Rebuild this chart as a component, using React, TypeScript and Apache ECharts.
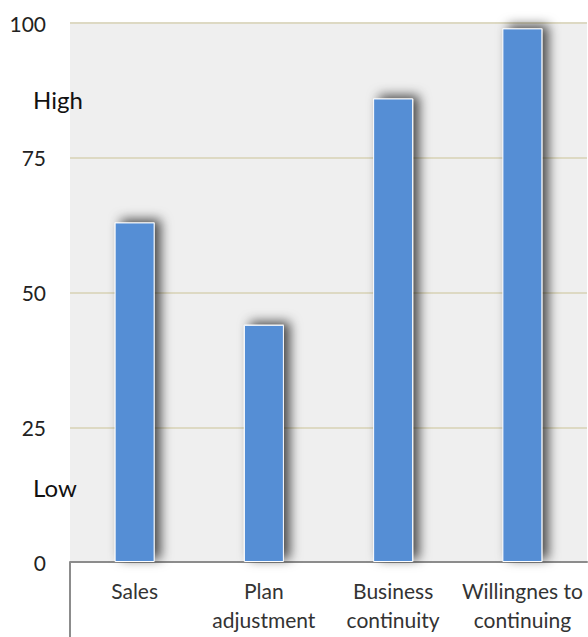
import React, { useEffect, useRef } from "react";
import * as echarts from "echarts";

const categories = ["Sales", "Plan\nadjustment", "Business\ncontinuity", "Willingnes to\ncontinuing"];
const values = [63, 44, 86, 99];
const yTicks = { min: 0, max: 100, interval: 25 };
const levelLabels = [
  { text: "High", value: 85.5 },
  { text: "Low", value: 13.5 },
];

export default function App() {
  const ref = useRef<HTMLDivElement>(null);

  useEffect(() => {
    if (!ref.current) return;
    const chart = echarts.init(ref.current, null, { renderer: "svg" });
    const font = "Lato, 'Open Sans', sans-serif";
    const gridTop = 23;
    const gridBottom = 75;
    const plotH = 637 - gridTop - gridBottom;
    const yOf = (v: number) => gridTop + plotH * (1 - (v - yTicks.min) / (yTicks.max - yTicks.min));

    chart.setOption({
      animation: false,
      backgroundColor: "#ffffff",
      grid: {
        left: 70,
        right: 1,
        top: gridTop,
        bottom: gridBottom,
        show: true,
        backgroundColor: "#efefef",
        borderWidth: 0,
      },
      xAxis: {
        type: "category",
        data: categories,
        axisLine: { show: true, lineStyle: { color: "#8c8c8c", width: 2 } },
        axisTick: { show: false },
        axisLabel: {
          color: "#333333",
          fontSize: 21,
          fontFamily: font,
          lineHeight: 29,
          margin: 14,
          interval: 0,
        },
      },
      yAxis: {
        type: "value",
        min: yTicks.min,
        max: yTicks.max,
        interval: yTicks.interval,
        axisLine: { show: false },
        axisTick: { show: false },
        axisLabel: {
          color: "#222222",
          fontSize: 21,
          fontFamily: font,
          margin: 24,
        },
        splitLine: { show: true, lineStyle: { color: "#ddd9c3", width: 2 } },
      },
      series: [
        {
          type: "bar",
          data: values,
          barWidth: 40,
          itemStyle: {
            color: "#558ed5",
            borderColor: "#ffffff",
            borderWidth: 1,
            shadowColor: "rgba(0,0,0,0.7)",
            shadowBlur: 12,
            shadowOffsetX: 6,
            shadowOffsetY: -3,
          },
        },
      ],
      graphic: [
        ...levelLabels.map((l) => ({
          type: "text",
          left: 33,
          top: yOf(l.value) - 14,
          style: {
            text: l.text,
            fill: "#111111",
            fontSize: 24,
            fontFamily: font,
          },
        })),
        {
          type: "line",
          shape: { x1: 70, y1: 562, x2: 70, y2: 637 },
          style: { stroke: "#8c8c8c", lineWidth: 2 },
        },
      ],
    });

    return () => chart.dispose();
  }, []);

  return (
    <div
      ref={ref}
      style={{ position: "fixed", left: 0, top: 0, width: 588, height: 637 }}
    />
  );
}
